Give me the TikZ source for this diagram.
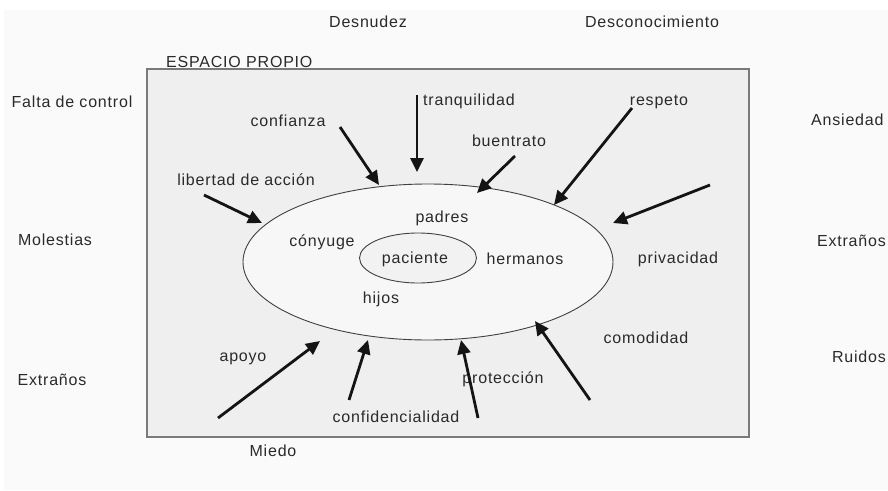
\documentclass[tikz,border=0pt]{standalone}
\usepackage{fontspec}
\setmainfont[LetterSpace=5]{Liberation Sans}
\usetikzlibrary{arrows.meta,shapes.geometric}
\definecolor{pagebg}{HTML}{FAFAFA}
\definecolor{boxfill}{HTML}{EFEFEF}
\definecolor{boxline}{HTML}{7A7A7A}
\definecolor{ringfill}{HTML}{F7F7F7}
\definecolor{txt}{HTML}{2A2A2A}
\tikzset{
  lbl/.style={text=txt, inner sep=0pt, font=\fontsize{16}{19}\selectfont},
  push/.style={line width=2.8pt, draw=black!92, -{Triangle[length=14pt,width=13pt]}},
  ring/.style={draw=black!75, line width=0.9pt}
}
\begin{document}
\begin{tikzpicture}[x=1pt,y=-1pt]
\useasboundingbox (0,0) rectangle (888,490);
\fill[white] (0,0) rectangle (888,490);
\fill[pagebg] (4,10) rectangle (888,490);

% the own space
\draw[boxline, fill=boxfill, line width=1.3pt] (147,69) rectangle (749,437);
\node[lbl, anchor=base west] (espacio) at (166,67) {ESPACIO PROPIO};

% family ring and patient
\draw[ring, fill=ringfill] (428,262) ellipse [x radius=185, y radius=78];
\node[ring, fill=boxfill!60!ringfill, ellipse, minimum width=117pt, minimum height=50pt, inner sep=0pt] (pac) at (418,258) {};
\node[lbl] (paciente) at (415,259) {paciente};
\node[lbl] (padres) at (442,218) {padres};
\node[lbl] (conyuge) at (322,242) {cónyuge};
\node[lbl] (hermanos) at (525,259) {hermanos};
\node[lbl] (hijos) at (381,299) {hijos};

% protective factors
\node[lbl] (tranq) at (469,101) {tranquilidad};
\node[lbl] (confianza) at (288,121) {confianza};
\node[lbl] (respeto) at (659,102) {respeto};
\node[lbl] (buentrato) at (509,141) {buentrato};
\node[lbl] (libertad) at (246,180) {libertad de acción};
\node[lbl] (privacidad) at (678,259) {privacidad};
\node[lbl] (comodidad) at (646,338) {comodidad};
\node[lbl] (apoyo) at (243,359) {apoyo};
\node[lbl] (proteccion) at (503,379) {protección};
\node[lbl] (confid) at (396,417) {confidencialidad};

% threats outside
\node[lbl] (desnudez) at (368,22) {Desnudez};
\node[lbl] (desconoc) at (652,22) {Desconocimiento};
\node[lbl] (falta) at (72,102) {Falta de control};
\node[lbl] (molestias) at (55,240) {Molestias};
\node[lbl] (extranosL) at (52,380) {Extraños};
\node[lbl] (miedo) at (273,451) {Miedo};
\node[lbl, anchor=west] (ansiedad) at (811,120) {Ansiedad};
\node[lbl, anchor=east] (extranosR) at (886,241) {Extraños};
\node[lbl, anchor=east] (ruidos) at (886,357) {Ruidos};

% arrow ends
\coordinate (t1) at (417,95);  \coordinate (h1) at (417,172);
\coordinate (t2) at (340,127); \coordinate (h2) at (379,185);
\coordinate (t3) at (515,156); \coordinate (h3) at (477,193);
\coordinate (t4) at (632,108); \coordinate (h4) at (554,205);
\coordinate (t5) at (710,185); \coordinate (h5) at (613,223);
\coordinate (t6) at (204,195); \coordinate (h6) at (262,223);
\coordinate (t7) at (218,418); \coordinate (h7) at (320,341);
\coordinate (t8) at (349,400); \coordinate (h8) at (368,340);
\coordinate (t9) at (478,418); \coordinate (h9) at (461,340);
\coordinate (t10) at (590,400); \coordinate (h10) at (535,321);

\foreach \i in {1,...,10} \draw[push] (t\i) -- (h\i);
\end{tikzpicture}
\end{document}
